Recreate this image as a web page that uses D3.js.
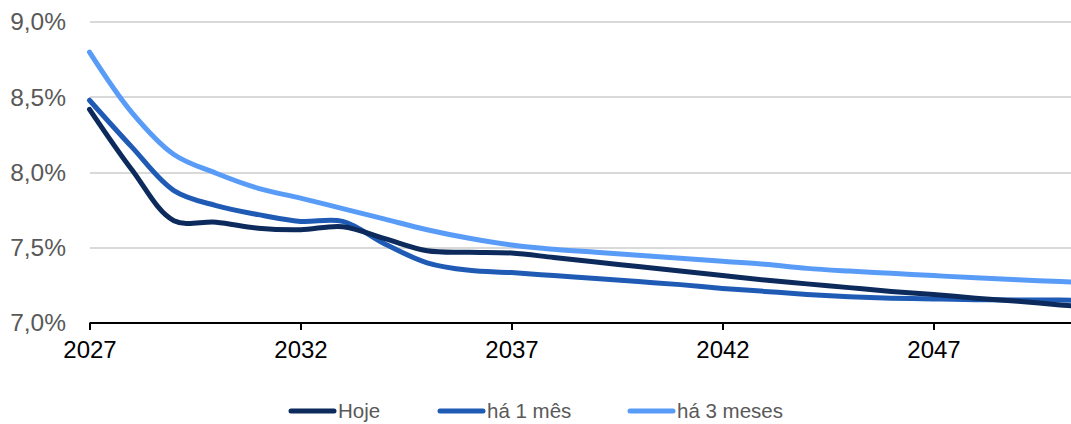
<!DOCTYPE html>
<head>
	<meta charset="utf-8">
	<style>
		body { margin: 0; background: #fff; }
		svg { display: block; font-family: "Liberation Sans", Arial, sans-serif; }
		.grid line { stroke: #d9d9d9; stroke-width: 2px; shape-rendering: crispEdges; }
		.axis--y text { fill: #595959; font-size: 24.5px; }
		.axis--x text { fill: #000; font-size: 24px; }
		.axis--x path, .axis--x line { stroke: #000; stroke-width: 2px; }
		.series { fill: none; stroke-width: 5px; stroke-linecap: round; stroke-linejoin: round; }
		.legend text { fill: #595959; font-size: 20.5px; }
	</style>
	<title>Curva</title>
	<script src="https://d3js.org/d3.v7.min.js"></script>
</head>
<body>
	<div id="chart"></div>
	<script>
		var years = d3.range(2027, 2052);
		var hoje = [8.42, 8.02, 7.68, 7.67, 7.63, 7.62, 7.64, 7.56, 7.48, 7.47, 7.465, 7.435, 7.405, 7.375, 7.345, 7.315, 7.285, 7.26, 7.235, 7.21, 7.19, 7.165, 7.145, 7.12, 7.10];
		var ha1mes = [8.48, 8.17, 7.88, 7.78, 7.72, 7.675, 7.675, 7.525, 7.40, 7.35, 7.335, 7.315, 7.295, 7.275, 7.255, 7.23, 7.21, 7.19, 7.175, 7.165, 7.16, 7.155, 7.153, 7.152, 7.15];
		var ha3meses = [8.80, 8.40, 8.12, 7.995, 7.895, 7.83, 7.76, 7.69, 7.62, 7.563, 7.518, 7.49, 7.47, 7.45, 7.43, 7.41, 7.39, 7.363, 7.345, 7.33, 7.315, 7.30, 7.287, 7.275, 7.263];
		var seriesNames = ["Hoje", "há 1 mês", "há 3 meses"];
		var seriesColors = ["#0c2a5c", "#1f5bb5", "#599cf8"];
		var yTicks = [7.0, 7.5, 8.0, 8.5, 9.0];
		var xTicks = [2027, 2032, 2037, 2042, 2047];

		var width = 1071, height = 424;
		var plot = { left: 89.5, right: 1071, top: 22, bottom: 323 };

		var svg = d3.select("#chart").append("svg")
			.attr("width", width)
			.attr("height", height);

		var x = d3.scaleLinear().domain([2027, 2050]).range([plot.left, plot.left + 23 * 42.2]);
		var y = d3.scaleLinear().domain([7.0, 9.0]).range([plot.bottom, plot.top]);

		svg.append("g")
			.attr("class", "grid")
			.selectAll("line")
			.data(yTicks.slice(1))
			.enter().append("line")
			.attr("x1", plot.left)
			.attr("x2", plot.right)
			.attr("y1", function (d) { return Math.round(y(d)); })
			.attr("y2", function (d) { return Math.round(y(d)); });

		var yAxis = svg.append("g")
			.attr("class", "axis axis--y")
			.attr("transform", "translate(" + plot.left + ",0)")
			.call(d3.axisLeft(y).tickValues(yTicks).tickSize(0).tickPadding(23.5)
				.tickFormat(function (d) { return d.toFixed(1).replace(".", ",") + "%"; }));
		yAxis.select(".domain").remove();
		yAxis.selectAll("text").attr("font-family", null).attr("font-size", null);

		svg.append("clipPath").attr("id", "clip")
			.append("rect")
			.attr("x", 0).attr("y", 0)
			.attr("width", plot.right).attr("height", height);

		var data = [hoje, ha1mes, ha3meses];
		var line = d3.line()
			.x(function (d, i) { return x(years[i]); })
			.y(function (d) { return y(d); })
			.curve(d3.curveCatmullRom);

		var xAxis = svg.append("g")
			.attr("class", "axis axis--x")
			.attr("transform", "translate(0," + plot.bottom + ")")
			.call(d3.axisBottom(x).tickValues(xTicks).tickSize(7).tickSizeOuter(0).tickPadding(11)
				.tickFormat(d3.format("d")));
		xAxis.select(".domain").attr("d", "M" + plot.left + ",0H" + plot.right);
		xAxis.selectAll("text").attr("font-family", null).attr("font-size", null);

		svg.append("g")
			.attr("clip-path", "url(#clip)")
			.selectAll("path")
			.data(data.slice().reverse())
			.enter().append("path")
			.attr("class", "series")
			.attr("stroke", function (d, i) { return seriesColors[2 - i]; })
			.attr("d", line);

		var legendX = [289, 438, 628];
		var legend = svg.append("g").attr("class", "legend")
			.selectAll("g")
			.data(seriesNames)
			.enter().append("g")
			.attr("transform", function (d, i) { return "translate(" + legendX[i] + ",411)"; });
		legend.append("line")
			.attr("x1", 2).attr("x2", 45)
			.attr("stroke", function (d, i) { return seriesColors[i]; })
			.attr("stroke-width", 5)
			.attr("stroke-linecap", "round");
		legend.append("text")
			.attr("x", 49)
			.attr("dy", "0.36em")
			.text(function (d) { return d; });
	</script>
</body>
